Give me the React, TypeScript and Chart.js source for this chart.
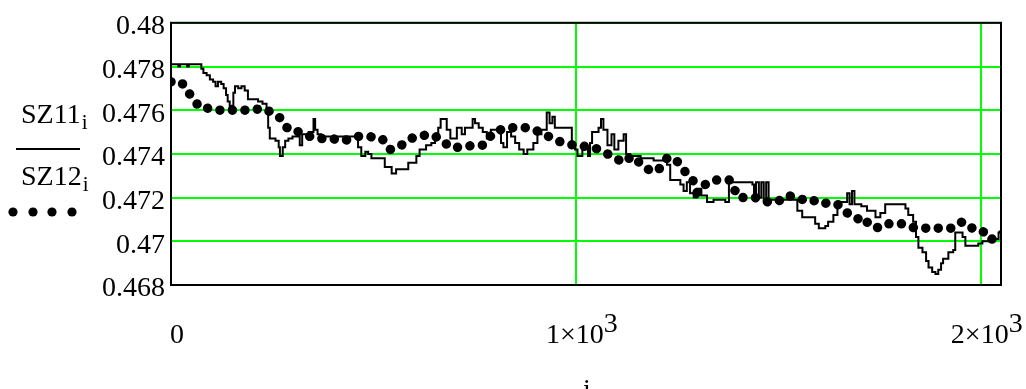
import React, { useEffect, useRef } from "react";
import { Chart, registerables } from "chart.js";

Chart.register(...registerables);

// ---- data ----
const yTickValues = [0.468, 0.47, 0.472, 0.474, 0.476, 0.478, 0.48];
const yTickLabels = ["0.468", "0.47", "0.472", "0.474", "0.476", "0.478", "0.48"];
const xTickValues = [0, 1000, 2000];
const xTickBase = ["0", "1×10", "2×10"];
const xTickExp = ["", "3", "3"];
const seriesNames = ["SZ11", "SZ12"];
const seriesSub = "i";
const xTitle = "i";

// SZ11: stepped trace, (index, value) breakpoints
const sz11I = [
  0, 18, 22, 40, 44, 75, 80, 88, 96, 104, 110, 116, 124, 130, 136, 140, 145, 150, 154, 158,
  166, 174, 182, 190, 215, 226, 236, 240, 244, 258, 266, 269, 276, 282, 290, 300, 318, 324, 340, 352,
  356, 362, 371, 462, 470, 480, 487, 495, 528, 545, 556, 586, 606, 614, 630, 643, 652, 660, 666, 681,
  690, 706, 718, 726, 745, 751, 760, 770, 780, 790, 815, 821, 830, 840, 850, 860, 871, 880, 895, 905,
  915, 928, 935, 942, 948, 990, 998, 1004, 1016, 1030, 1035, 1040, 1056, 1062, 1068, 1078, 1088, 1095, 1105, 1118,
  1124, 1134, 1160, 1192, 1225, 1233, 1258, 1266, 1274, 1282, 1291, 1300, 1310, 1324, 1340, 1369, 1378, 1436, 1440, 1445,
  1452, 1458, 1464, 1470, 1476, 1547, 1559, 1591, 1600, 1616, 1623, 1636, 1646, 1655, 1670, 1676, 1682, 1688, 1705, 1719,
  1740, 1752, 1764, 1814, 1821, 1833, 1840, 1846, 1856, 1865, 1871, 1880, 1888, 1895, 1902, 1907, 1920, 1932, 1937, 1955,
  1962, 1994, 2004, 2019, 2036, 2044, 2047,
];
const sz11V = [
  0.4781, 0.478, 0.4781, 0.478, 0.4781, 0.4779, 0.4777, 0.4776, 0.4774, 0.4773, 0.4771, 0.4773, 0.4772, 0.477, 0.4767, 0.4764, 0.4761, 0.4762, 0.4768, 0.4771,
  0.477, 0.4771, 0.4769, 0.4765, 0.4764, 0.4763, 0.476, 0.4752, 0.4747, 0.4746, 0.4743, 0.4739, 0.4743, 0.4746, 0.4747, 0.4748, 0.4744, 0.4749, 0.475, 0.4756,
  0.4751, 0.4749, 0.4748, 0.4743, 0.4739, 0.4741, 0.474, 0.4738, 0.4734, 0.4731, 0.4733, 0.4736, 0.4739, 0.4742, 0.4744, 0.4745, 0.4748, 0.4752, 0.4756, 0.4751,
  0.4747, 0.4752, 0.4749, 0.4752, 0.4756, 0.4754, 0.4752, 0.475, 0.4747, 0.4751, 0.4745, 0.4743, 0.475, 0.4748, 0.4745, 0.4742, 0.474, 0.4742, 0.4745, 0.4749,
  0.4751, 0.4759, 0.4754, 0.4757, 0.4752, 0.4744, 0.4742, 0.4739, 0.4743, 0.4739, 0.4745, 0.475, 0.4752, 0.4756, 0.4751, 0.4744, 0.4749, 0.4742, 0.4746, 0.4749,
  0.474, 0.4739, 0.4738, 0.4737, 0.4735, 0.4728, 0.4726, 0.4723, 0.4727, 0.4722, 0.472, 0.4724, 0.4721, 0.4718, 0.4719, 0.4718, 0.4727, 0.4726, 0.472, 0.4727,
  0.472, 0.4727, 0.4719, 0.4727, 0.4719, 0.4714, 0.4711, 0.4708, 0.4706, 0.4707, 0.4709, 0.4712, 0.4717, 0.4718, 0.4722, 0.4717, 0.4723, 0.4717, 0.4716, 0.4714,
  0.4711, 0.4713, 0.4717, 0.4715, 0.4712, 0.4709, 0.4702, 0.4697, 0.4695, 0.4691, 0.4688, 0.4686, 0.4685, 0.4687, 0.469, 0.4692, 0.4695, 0.4696, 0.4704, 0.4702,
  0.4698, 0.4699, 0.47, 0.4701, 0.4701, 0.4704, 0.4705,
];

// SZ12: dotted trace, (index, value) vertices
const sz12I = [
  0, 5, 30, 51, 72, 88, 113, 142, 179, 203, 224, 249, 273, 290, 319, 343, 364, 397, 426, 463,
  488, 521, 541, 562, 591, 611, 640, 665, 689, 718, 747, 772, 797, 829, 879, 912, 953, 994, 1044, 1089,
  1118, 1138, 1176, 1201, 1225, 1245, 1263, 1287, 1300, 1320, 1339, 1369, 1381, 1401, 1443, 1475, 1497, 1522, 1549, 1574,
  1598, 1623, 1646, 1670, 1695, 1703, 1727, 1747, 1772, 1806, 1838, 1871, 1900, 1930, 1955, 1979, 2004, 2019, 2047,
];
const sz12V = [
  0.4773, 0.4772, 0.4772, 0.4766, 0.4761, 0.4761, 0.476, 0.476, 0.476, 0.476, 0.4761, 0.4759, 0.4756, 0.4751, 0.475, 0.4748, 0.4747, 0.4747, 0.4746, 0.4748,
  0.4748, 0.4747, 0.4742, 0.4743, 0.4747, 0.4748, 0.4749, 0.4747, 0.4743, 0.4743, 0.4744, 0.4744, 0.475, 0.4752, 0.4752, 0.475, 0.4746, 0.4744, 0.4743, 0.4739,
  0.4736, 0.4739, 0.4733, 0.4732, 0.4738, 0.4738, 0.4733, 0.4729, 0.4722, 0.4726, 0.4728, 0.4728, 0.4728, 0.472, 0.472, 0.4718, 0.4718, 0.4721, 0.472, 0.4718,
  0.4719, 0.4717, 0.4717, 0.4713, 0.4711, 0.4708, 0.4709, 0.4706, 0.4708, 0.4708, 0.4706, 0.4706, 0.4706, 0.4706, 0.4709, 0.4706, 0.4705, 0.4701, 0.4701,
];

const FONT = '"Liberation Serif", "Times New Roman", serif';

const decorPlugin = {
  id: "decor",
  afterDatasetsDraw(chart: any) {
    const { ctx, chartArea } = chart;
    ctx.save();
    ctx.strokeStyle = "#000";
    ctx.lineWidth = 2;
    ctx.strokeRect(chartArea.left, chartArea.top, chartArea.right - chartArea.left, chartArea.bottom - chartArea.top);
    ctx.restore();
  },
  afterDraw(chart: any) {
    const { ctx } = chart;
    const xs = chart.scales.x;
    ctx.save();
    ctx.fillStyle = "#000";
    ctx.textBaseline = "alphabetic";
    ctx.textAlign = "left";
    ctx.font = `28px ${FONT}`;
    xTickValues.forEach((v, k) => {
      const px = xs.getPixelForValue(v);
      const wb = ctx.measureText(xTickBase[k]).width;
      const we = xTickExp[k] ? ctx.measureText(xTickExp[k]).width : 0;
      const left = px + 6 - (wb + we) / 2;
      ctx.fillText(xTickBase[k], left, 343);
      if (xTickExp[k]) ctx.fillText(xTickExp[k], left + wb, 332);
    });
    // x title
    ctx.textAlign = "center";
    ctx.fillText(xTitle, 587, 398);

    // left legend / axis title
    ctx.textAlign = "left";
    const drawName = (name: string, base: number) => {
      ctx.font = `28px ${FONT}`;
      ctx.fillText(name, 21, base);
      const w = ctx.measureText(name).width;
      ctx.font = `21px ${FONT}`;
      ctx.fillText(seriesSub, 21 + w + 1, base + 6);
    };
    drawName(seriesNames[0], 123);
    ctx.strokeStyle = "#000";
    ctx.lineWidth = 2;
    ctx.beginPath();
    ctx.moveTo(16, 149);
    ctx.lineTo(80, 149);
    ctx.stroke();
    drawName(seriesNames[1], 185);
    [13, 33, 52, 72].forEach((cx) => {
      ctx.beginPath();
      ctx.arc(cx, 212, 4.6, 0, Math.PI * 2);
      ctx.fill();
    });
    ctx.restore();
  },
};

export default function App() {
  const ref = useRef<HTMLCanvasElement | null>(null);
  useEffect(() => {
    if (!ref.current) return;
    const chart = new Chart(ref.current, {
      type: "line",
      data: {
        datasets: [
          {
            label: seriesNames[0],
            data: sz11I.map((x, k) => ({ x, y: sz11V[k] })),
            borderColor: "#000",
            borderWidth: 2,
            stepped: true,
            pointRadius: 0,
            fill: false,
          },
          {
            label: seriesNames[1],
            data: sz12I.map((x, k) => ({ x, y: sz12V[k] })),
            borderColor: "#000",
            borderWidth: 9.5,
            borderDash: [0.01, 12.5],
            borderCapStyle: "round",
            pointRadius: 0,
            tension: 0,
            fill: false,
          },
        ],
      },
      options: {
        animation: false,
        responsive: false,
        layout: { padding: { left: 0, top: 20, right: 25, bottom: 0 } },
        plugins: { legend: { display: false }, tooltip: { enabled: false } },
        scales: {
          x: {
            type: "linear",
            min: 0,
            max: 2050,
            afterBuildTicks: (s: any) => {
              s.ticks = xTickValues.map((value) => ({ value }));
            },
            afterFit: (s: any) => {
              s.height = 104;
            },
            ticks: { display: false },
            grid: { color: "#00ff00", lineWidth: 2, drawTicks: false },
            border: { display: false },
          },
          y: {
            type: "linear",
            min: 0.468,
            max: 0.48,
            afterBuildTicks: (s: any) => {
              s.ticks = yTickValues.map((value) => ({ value }));
            },
            afterFit: (s: any) => {
              s.width = 171;
            },
            ticks: {
              autoSkip: false,
              padding: 6,
              labelOffset: 4,
              color: "#000",
              font: { family: FONT, size: 28 },
              callback: (_v: any, i: number) => yTickLabels[i],
            },
            grid: { color: "#00ff00", lineWidth: 2, drawTicks: false },
            border: { display: false },
          },
        },
      },
      plugins: [decorPlugin],
    });
    return () => chart.destroy();
  }, []);
  return (
    <div style={{ position: "absolute", left: 0, top: 0, width: 1026, height: 389 }}>
      <canvas ref={ref} width={1026} height={389} />
    </div>
  );
}
